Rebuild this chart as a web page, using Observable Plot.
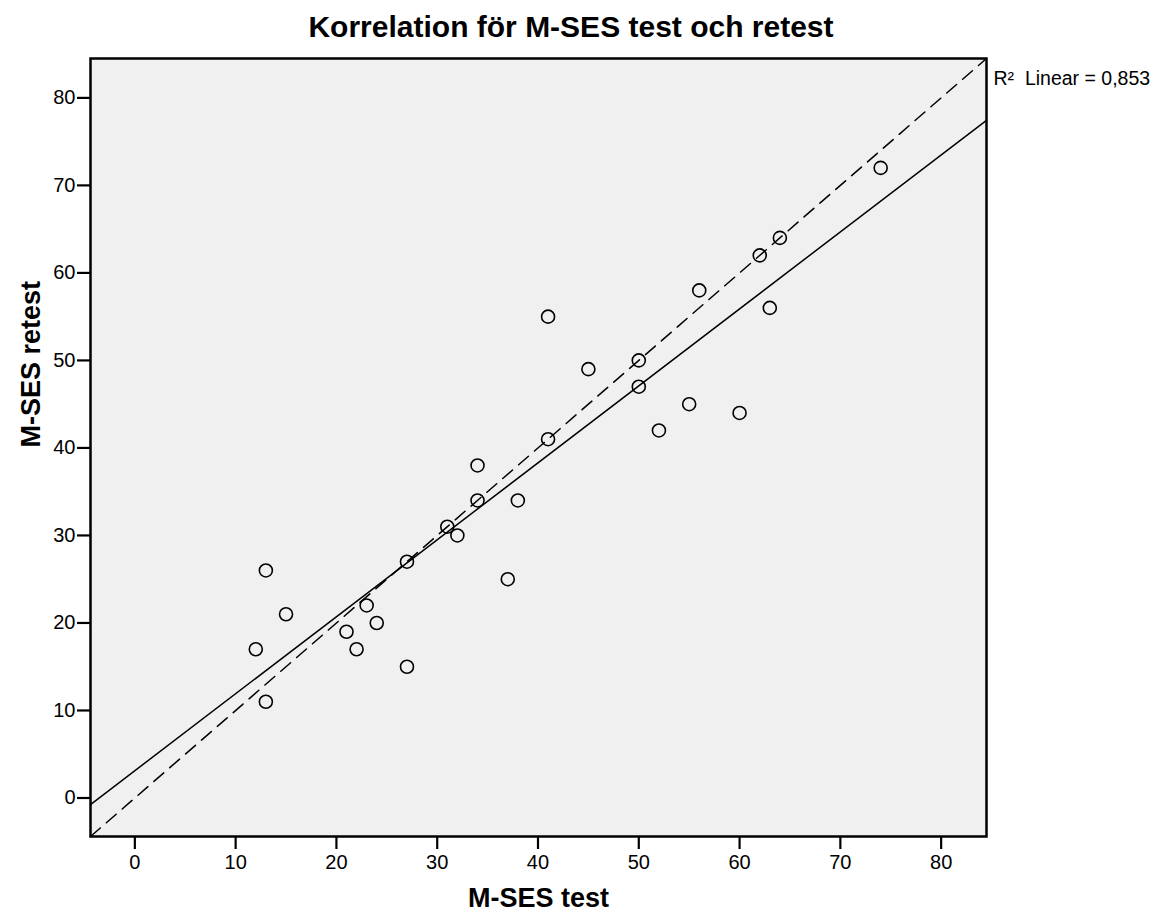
<!DOCTYPE html>
<html>
<head>
<meta charset="utf-8">
<script src="https://cdn.jsdelivr.net/npm/d3@7"></script>
<script src="https://cdn.jsdelivr.net/npm/@observablehq/plot@0.6"></script>
<style>
  html, body { margin: 0; padding: 0; background: #fff; }
  body { width: 1158px; height: 918px; font-family: "Liberation Sans", Arial, sans-serif; }
  #title { height: 50px; line-height: 54px; text-align: center; font-weight: bold; font-size: 30px; color: #000; padding-right: 16px; box-sizing: border-box; width: 1158px; }
  svg { display: block; }
</style>
</head>
<body>
<div id="title">Korrelation för M-SES test och retest</div>
<div id="chart"></div>
<script>
// Data
const testScores   = [12, 13, 13, 15, 21, 22, 23, 24, 27, 27, 31, 32, 34, 34, 37, 38, 41, 41, 45, 50, 50, 52, 55, 56, 60, 62, 63, 64, 74];
const retestScores = [17, 26, 11, 21, 19, 17, 22, 20, 27, 15, 31, 30, 38, 34, 25, 34, 55, 41, 49, 50, 47, 42, 45, 58, 44, 62, 56, 64, 72];
const xTicks = [0, 10, 20, 30, 40, 50, 60, 70, 80];
const yTicks = [0, 10, 20, 30, 40, 50, 60, 70, 80];
const axisDomain = [-4.4, 84.5];
const r2Label = "R\u00b2\u00a0\u00a0Linear = 0,853";
const xTitle = "M-SES test";
const yTitle = "M-SES retest";

const points = testScores.map((t, i) => ({test: t, retest: retestScores[i]}));

// least-squares fit line computed from the data
const mx = d3.mean(testScores), my = d3.mean(retestScores);
const slope = d3.sum(points, d => (d.test - mx) * (d.retest - my)) / d3.sum(points, d => (d.test - mx) ** 2);
const intercept = my - slope * mx;
const fitLine = axisDomain.map(x => ({test: x, retest: intercept + slope * x}));
const identityLine = axisDomain.map(v => ({test: v, retest: v}));

const chart = Plot.plot({
  width: 1158,
  height: 868,
  marginTop: 8,
  marginLeft: 90,
  marginRight: 172,
  marginBottom: 82,
  style: {fontFamily: "'Liberation Sans', Arial, sans-serif", fontSize: "20px", color: "#000", background: "#fff"},
  x: {domain: axisDomain, label: null},
  y: {domain: axisDomain, label: null},
  marks: [
    Plot.frame({fill: "#f0f0f0", stroke: null}),
    Plot.line(identityLine, {x: "test", y: "retest", stroke: "#000", strokeWidth: 1.5, strokeDasharray: "13,8"}),
    Plot.line(fitLine, {x: "test", y: "retest", stroke: "#000", strokeWidth: 1.5}),
    Plot.dot(points, {x: "test", y: "retest", r: 6.5, stroke: "#000", strokeWidth: 1.6, fill: "none"}),
    Plot.frame({stroke: "#000", strokeWidth: 2.5}),
    Plot.axisX(xTicks, {tickSize: 13, tickPadding: 5, strokeWidth: 2.2, fontSize: 20, label: null}),
    Plot.axisY(yTicks, {tickSize: 13, tickPadding: 2, strokeWidth: 2.2, fontSize: 20, label: null}),
    Plot.text([r2Label], {frameAnchor: "top-right", text: d => d, dx: 7, dy: 20, lineAnchor: "middle", textAnchor: "start", fontSize: 19.5}),
    Plot.text([xTitle], {frameAnchor: "bottom", text: d => d, dy: 70, fontSize: 27, fontWeight: "bold"}),
    Plot.text([yTitle], {frameAnchor: "left", text: d => d, dx: -59, rotate: -90, fontSize: 27, fontWeight: "bold"})
  ]
});
document.getElementById("chart").appendChild(chart);
</script>
</body>
</html>
